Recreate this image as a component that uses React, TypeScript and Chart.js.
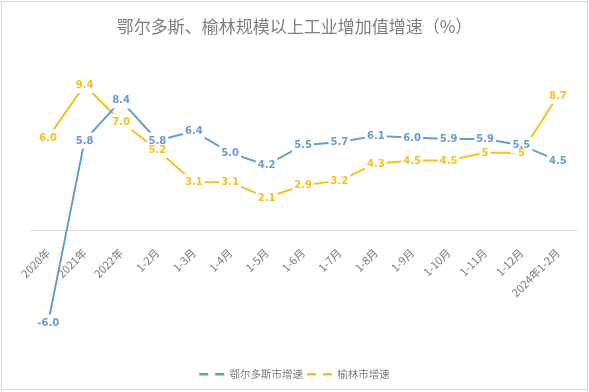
import React, { useEffect, useRef } from "react";
import { Chart, registerables } from "chart.js";

Chart.register(...registerables);

const categories = [
  "2020年", "2021年", "2022年", "1-2月", "1-3月", "1-4月", "1-5月", "1-6月",
  "1-7月", "1-8月", "1-9月", "1-10月", "1-11月", "1-12月", "2024年1-2月",
];
const ordosLabels = ["-6.0", "5.8", "8.4", "5.8", "6.4", "5.0", "4.2", "5.5", "5.7", "6.1", "6.0", "5.9", "5.9", "5.5", "4.5"];
const yulinLabels = ["6.0", "9.4", "7.0", "5.2", "3.1", "3.1", "2.1", "2.9", "3.2", "4.3", "4.5", "4.5", "5", "5", "8.7"];
const ordosValues = ordosLabels.map(Number);
const yulinValues = yulinLabels.map(Number);
const seriesNames = ["鄂尔多斯市增速", "榆林市增速"];
const titleText = "鄂尔多斯、榆林规模以上工业增加值增速（%）";

const BLUE = "#6a9bd0";
const YELLOW = "#f4c21f";

const labelPlugin = {
  id: "pointLabels",
  afterDatasetsDraw(chart: any) {
    const ctx = chart.ctx;
    const texts = [ordosLabels, yulinLabels];
    ctx.save();
    ctx.font = 'bold 10px "DejaVu Sans"';
    ctx.textAlign = "center";
    ctx.textBaseline = "middle";
    chart.data.datasets.forEach((ds: any, i: number) => {
      const meta = chart.getDatasetMeta(i);
      meta.data.forEach((pt: any, j: number) => {
        const t = texts[i][j];
        const w = ctx.measureText(t).width;
        ctx.fillStyle = "#ffffff";
        ctx.fillRect(pt.x - w / 2 - 2, pt.y - 8, w + 4, 16);
      });
    });
    chart.data.datasets.forEach((ds: any, i: number) => {
      const meta = chart.getDatasetMeta(i);
      meta.data.forEach((pt: any, j: number) => {
        ctx.fillStyle = ds.borderColor;
        ctx.fillText(texts[i][j], pt.x, pt.y + 0.5);
      });
    });
    ctx.restore();
  },
};

const framePlugin = {
  id: "frame",
  beforeDraw(chart: any) {
    const ctx = chart.ctx;
    ctx.save();
    ctx.fillStyle = "#ffffff";
    ctx.fillRect(0, 0, chart.width, chart.height);
    ctx.restore();
  },
  afterDraw(chart: any) {
    const ctx = chart.ctx;
    ctx.save();
    ctx.strokeStyle = "#d9d9d9";
    ctx.lineWidth = 1;
    ctx.strokeRect(1.5, 1.5, 586, 388);
    ctx.restore();
  },
};

export default function App() {
  const ref = useRef<HTMLCanvasElement>(null);
  useEffect(() => {
    document.body.style.margin = "0";
    const chart = new Chart(ref.current as HTMLCanvasElement, {
      type: "line",
      data: {
        labels: categories,
        datasets: [
          {
            label: seriesNames[0],
            data: ordosValues,
            borderColor: BLUE,
            backgroundColor: BLUE,
            borderWidth: 2,
            pointRadius: 0,
            tension: 0,
            yAxisID: "y",
          },
          {
            label: seriesNames[1],
            data: yulinValues,
            borderColor: YELLOW,
            backgroundColor: YELLOW,
            borderWidth: 2,
            pointRadius: 0,
            tension: 0,
            yAxisID: "y",
          },
        ],
      },
      options: {
        responsive: false,
        animation: false,
        devicePixelRatio: 1,
        layout: { padding: { top: 0, bottom: 2.5, left: 0, right: 0 } },
        plugins: {
          tooltip: { enabled: false },
          title: {
            display: true,
            text: titleText,
            color: "#7f7f7f",
            font: { family: '"Noto Sans CJK SC"', size: 17, weight: "normal" },
            padding: { top: 16, bottom: 10 },
          },
          legend: {
            position: "bottom",
            labels: {
              usePointStyle: true,
              pointStyleWidth: 25,
              padding: 4,
              color: "#7a7a7a",
              font: { family: '"Noto Sans CJK SC"', size: 10.5 },
              generateLabels: (chart: any) =>
                chart.data.datasets.map((ds: any, i: number) => ({
                  text: ds.label,
                  fillStyle: ds.borderColor,
                  strokeStyle: ds.borderColor,
                  lineWidth: 2.5,
                  lineDash: [9, 7],
                  pointStyle: "line",
                  fontColor: "#7a7a7a",
                  hidden: false,
                  datasetIndex: i,
                })),
            },
          },
        },
        scales: {
          x: {
            type: "category",
            offset: true,
            position: { y: 0 } as any,
            grid: { display: false },
            border: { display: true, color: "#d9d9d9", width: 1 },
            ticks: {
              maxRotation: 45,
              minRotation: 45,
              autoSkip: false,
              padding: 8,
              color: "#7a7a7a",
              font: { family: '"Noto Sans CJK SC"', size: 11 },
            },
          },
          y: {
            position: "left",
            min: -8.75,
            max: 11.9,
            grid: { display: false },
            border: { display: false },
            ticks: { display: false },
            afterFit: (s: any) => {
              s.width = 30;
            },
          },
          y2: {
            position: "right",
            min: 0,
            max: 1,
            grid: { display: false },
            border: { display: false },
            ticks: { display: false },
            afterFit: (s: any) => {
              s.width = 13;
            },
          },
        },
      },
      plugins: [labelPlugin, framePlugin],
    });
    return () => chart.destroy();
  }, []);
  return (
    <div style={{ position: "fixed", left: 0, top: 0, width: 589, height: 392 }}>
      <canvas ref={ref} width={589} height={392} />
    </div>
  );
}
